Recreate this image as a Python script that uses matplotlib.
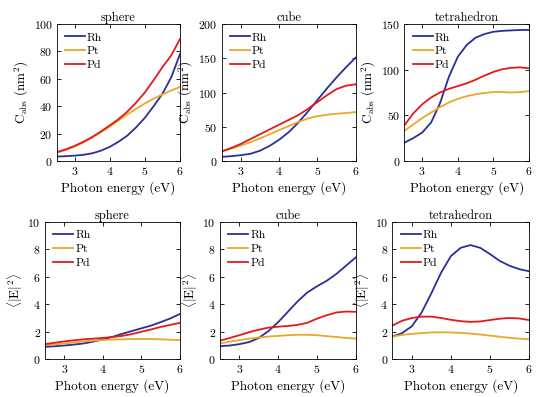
import matplotlib
matplotlib.use("Agg")
import matplotlib.pyplot as plt

plt.rcParams.update({
    "font.family": "serif",
    "font.serif": ["cmr10"],
    "mathtext.fontset": "cm",
    "axes.formatter.use_mathtext": True,
    "axes.unicode_minus": False,
})

# ---------------- data ----------------
energy = [2.5, 2.75, 3.0, 3.25, 3.5, 3.75, 4.0, 4.25, 4.5, 4.75, 5.0, 5.25, 5.5, 5.75, 6.0]

sph_c_rh = [3.2, 3.5, 3.9, 4.5, 5.6, 7.5, 10.3, 14, 18.5, 24.5, 31.5, 40, 49, 61, 78]
sph_c_pt = [6, 8, 10.5, 13.5, 17, 21, 25, 29.5, 34, 38, 42, 45.5, 48.5, 51.5, 54]
sph_c_pd = [6.5, 8.5, 11, 14, 17.5, 21.5, 26, 30.5, 36, 42.5, 50, 59, 68.5, 77, 89]

cub_c_rh = [6, 7, 8.5, 10.5, 15, 22, 31, 42, 56, 72, 89, 106, 122, 137, 151]
cub_c_pt = [14, 18, 22.5, 27.5, 33, 39, 45, 51, 57, 62, 65.5, 67.5, 69, 70, 71.5]
cub_c_pd = [14, 19, 25, 32, 39, 46, 53, 60, 67, 76, 86, 96, 105, 110, 112]

tet_c_rh = [20, 25, 31, 42, 63, 92, 114, 127, 135, 139, 141.5, 142.5, 143, 143.5, 143.5]
tet_c_pt = [33, 40, 47, 53, 59, 64, 68, 71, 73, 74.5, 75.5, 75.5, 75, 75.5, 76.5]
tet_c_pd = [39, 52, 62, 69.5, 75, 79, 82, 85, 89, 93.5, 97.5, 100.5, 102, 102.5, 101.5]

sph_e_rh = [0.9, 0.95, 1.0, 1.07, 1.15, 1.28, 1.45, 1.63, 1.85, 2.05, 2.25, 2.45, 2.7, 2.97, 3.3]
sph_e_pt = [1.0, 1.08, 1.15, 1.22, 1.3, 1.35, 1.4, 1.43, 1.45, 1.47, 1.48, 1.47, 1.45, 1.42, 1.4]
sph_e_pd = [1.1, 1.2, 1.3, 1.38, 1.45, 1.5, 1.55, 1.62, 1.7, 1.83, 2.0, 2.17, 2.35, 2.5, 2.65]

cub_e_rh = [0.95, 1.0, 1.1, 1.25, 1.55, 2.05, 2.7, 3.45, 4.2, 4.85, 5.3, 5.7, 6.2, 6.8, 7.4]
cub_e_pt = [1.15, 1.28, 1.4, 1.5, 1.58, 1.65, 1.7, 1.75, 1.78, 1.78, 1.75, 1.68, 1.62, 1.55, 1.5]
cub_e_pd = [1.35, 1.55, 1.75, 1.97, 2.15, 2.3, 2.37, 2.42, 2.5, 2.65, 2.95, 3.2, 3.4, 3.47, 3.45]

tet_e_rh = [1.65, 1.9, 2.4, 3.4, 4.8, 6.3, 7.5, 8.1, 8.3, 8.1, 7.65, 7.15, 6.8, 6.55, 6.4]
tet_e_pt = [1.65, 1.77, 1.85, 1.9, 1.95, 1.96, 1.95, 1.92, 1.87, 1.8, 1.72, 1.64, 1.56, 1.5, 1.45]
tet_e_pd = [2.45, 2.8, 3.0, 3.1, 3.1, 3.0, 2.87, 2.77, 2.72, 2.75, 2.85, 2.95, 3.0, 2.97, 2.85]

metals = ["Rh", "Pt", "Pd"]
shapes = ["sphere", "cube", "tetrahedron"]
colors = {"Rh": "#2a2f9a", "Pt": "#e8a82a", "Pd": "#e3191c"}

panels = [
    # (title, series, ylim, yticks, kind, position)
    (shapes[0], [sph_c_rh, sph_c_pt, sph_c_pd], (0, 100), [0, 20, 40, 60, 80, 100], "c",
     [0.1036, 0.5945, 0.2236, 0.345]),
    (shapes[1], [cub_c_rh, cub_c_pt, cub_c_pd], (0, 200), [0, 50, 100, 150, 200], "c",
     [0.4031, 0.5945, 0.2436, 0.345]),
    (shapes[2], [tet_c_rh, tet_c_pt, tet_c_pd], (0, 150), [0, 50, 100, 150], "c",
     [0.7351, 0.5945, 0.2267, 0.345]),
    (shapes[0], [sph_e_rh, sph_e_pt, sph_e_pd], (0, 10), [0, 2, 4, 6, 8, 10], "e",
     [0.0818, 0.0950, 0.2455, 0.3466]),
    (shapes[1], [cub_e_rh, cub_e_pt, cub_e_pd], (0, 10), [0, 2, 4, 6, 8, 10], "e",
     [0.4000, 0.0950, 0.2467, 0.3466]),
    (shapes[2], [tet_e_rh, tet_e_pt, tet_e_pd], (0, 10), [0, 2, 4, 6, 8, 10], "e",
     [0.7133, 0.0950, 0.2485, 0.3466]),
]

fig = plt.figure(figsize=(5.5, 3.97), dpi=100)

for title, series, ylim, yticks, kind, pos in panels:
    ax = fig.add_axes(pos)
    for m, ys in zip(metals, series):
        ax.plot(energy, ys, color=colors[m], lw=1.3, label=m)
    ax.set_xlim(2.5, 6)
    ax.set_ylim(*ylim)
    ax.set_xticks([3, 4, 5, 6])
    ax.set_yticks(yticks)
    ax.tick_params(direction="in", top=True, right=True, labelsize=8.5,
                   length=3, width=0.6, pad=3)
    for s in ax.spines.values():
        s.set_linewidth(0.6)
    ax.set_title(title, fontsize=9, pad=2)
    ax.set_xlabel("Photon energy (eV)", fontsize=9.5, labelpad=3)
    if kind == "c":
        ax.set_ylabel(r"$\mathrm{C}_{\mathrm{abs}}\ (\mathrm{nm}^2)$", fontsize=9.5, labelpad=2)
    else:
        ax.set_ylabel(r"$\langle|\mathrm{E}|^2\rangle$", fontsize=9.5, labelpad=2)
    ax.legend(loc="upper left", frameon=False, fontsize=8.5, handlelength=1.7,
              handletextpad=0.15, labelspacing=0.3, borderaxespad=0.3)

fig.savefig("out.png", dpi=100)
